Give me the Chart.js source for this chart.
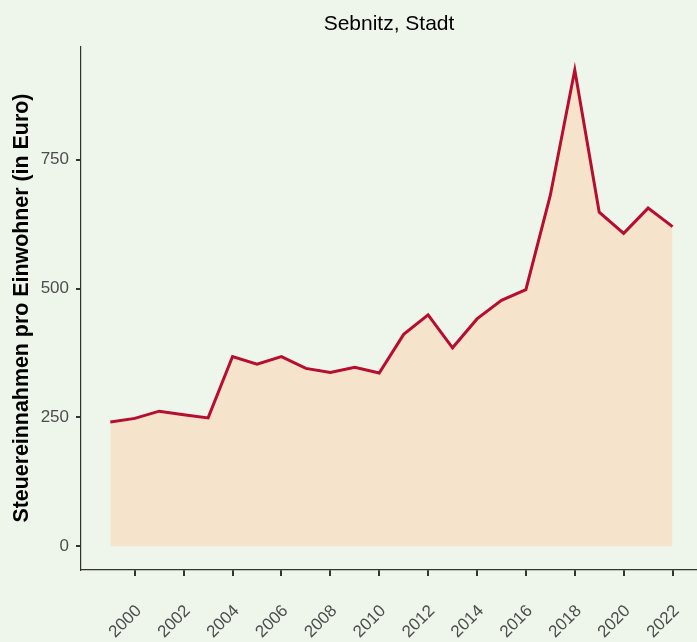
<!DOCTYPE html>
<html>
<head>
<meta charset="utf-8">
<script src="https://cdn.jsdelivr.net/npm/chart.js@4.4.1/dist/chart.umd.min.js"></script>
<style>
  body { margin: 0; background: #EEF6EC; }
  #wrap { width: 697px; height: 642px; }
</style>
</head>
<body>
<div id="wrap"><canvas id="taxChart"></canvas></div>
<script>
// values
const years = [1999, 2000, 2001, 2002, 2003, 2004, 2005, 2006, 2007, 2008, 2009, 2010,
               2011, 2012, 2013, 2014, 2015, 2016, 2017, 2018, 2019, 2020, 2021, 2022]
const steuern = [241, 248, 262, 255, 249, 368, 353, 368, 345, 337, 347, 336,
                 411, 449, 385, 441, 477, 498, 681, 924, 648, 607, 656, 620]
const xTicks = [2000, 2002, 2004, 2006, 2008, 2010, 2012, 2014, 2016, 2018, 2020, 2022]
const yTicks = [0, 250, 500, 750]

const fontFam = "'Liberation Sans', Arial, sans-serif"
const bgPlugin = {
  id: 'bg',
  beforeDraw(chart) {
    const c = chart.ctx
    c.save()
    c.fillStyle = '#EEF6EC'
    c.fillRect(0, 0, chart.width, chart.height)
    c.restore()
  }
}

const ctx = document.getElementById('taxChart').getContext('2d')
new Chart(ctx, {
  type: 'line',
  data: {
    datasets: [{
      data: years.map((y, i) => ({ x: y, y: steuern[i] })),
      borderColor: '#B70D2E',
      borderWidth: 3,
      backgroundColor: '#F5E3CB',
      fill: 'origin',
      pointRadius: 0,
      tension: 0
    }]
  },
  options: {
    responsive: true,
    maintainAspectRatio: false,
    animation: false,
    layout: { padding: 0 },
    plugins: {
      legend: { display: false },
      tooltip: { enabled: false },
      title: {
        display: true,
        text: 'Sebnitz, Stadt',
        fullSize: false,
        color: '#000000',
        font: { family: fontFam, size: 21, weight: 'normal', lineHeight: 1.2 },
        padding: { top: 12, bottom: 9 }
      }
    },
    scales: {
      x: {
        type: 'linear',
        min: 1997.8,
        max: 2023.0,
        afterBuildTicks: s => { s.ticks = xTicks.map(v => ({ value: v })) },
        afterFit: s => { s.height = 72; s.paddingLeft = 0; s.paddingRight = 0 },
        border: { display: true, color: '#333333', width: 1.2 },
        grid: { drawOnChartArea: false, drawTicks: true, tickLength: 6, color: '#333333', lineWidth: 2 },
        ticks: {
          minRotation: 45,
          maxRotation: 45,
          padding: 25,
          labelOffset: 4,
          color: '#4D4D4D',
          font: { family: fontFam, size: 17 },
          callback: v => String(v)
        }
      },
      y: {
        min: -46.2,
        max: 970.2,
        afterBuildTicks: s => { s.ticks = yTicks.map(v => ({ value: v })) },
        afterFit: s => { s.width = 81; s.paddingTop = 0; s.paddingBottom = 0 },
        border: { display: true, color: '#333333', width: 1.2 },
        grid: { drawOnChartArea: false, drawTicks: true, tickLength: 5, color: '#333333', lineWidth: 2 },
        ticks: {
          padding: 7,
          color: '#4D4D4D',
          font: { family: fontFam, size: 17 }
        },
        title: {
          display: true,
          text: 'Steuereinnahmen pro Einwohner (in Euro)',
          color: '#000000',
          font: { family: fontFam, size: 21.4, weight: 'bold' },
          padding: { top: 9, bottom: 0 }
        }
      }
    }
  },
  plugins: [bgPlugin]
})
</script>
</body>
</html>
